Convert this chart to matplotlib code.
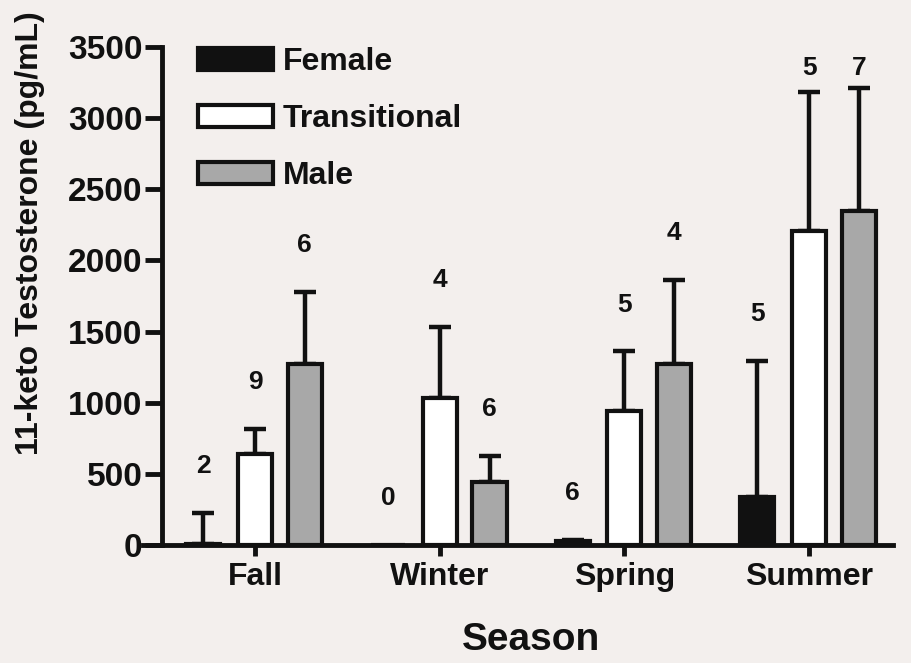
import numpy as np
import matplotlib
matplotlib.use("Agg")
import matplotlib.pyplot as plt

## data
seasons = ["Fall", "Winter", "Spring", "Summer"]
groups = ["Female", "Transitional", "Male"]

female_mean = [10, 0, 25, 340]
female_sem = [215, 0, 10, 950]
trans_mean = [640, 1035, 945, 2205]
trans_sem = [175, 500, 415, 980]
male_mean = [1270, 445, 1270, 2345]
male_sem = [505, 180, 595, 865]

female_n = [2, 0, 6, 5]
trans_n = [9, 4, 5, 5]
male_n = [6, 6, 4, 7]

bg = "#f3efed"
colors = ["#111111", "#ffffff", "#a8a8a8"]

plt.rcParams["font.family"] = ["Liberation Sans", "DejaVu Sans"]
plt.rcParams["font.weight"] = "bold"

fig = plt.figure(figsize=(9.11, 6.63), dpi=100, facecolor=bg)
ax = fig.add_axes([143 / 911, 118 / 663, 750 / 911, 498 / 663])
ax.set_facecolor(bg)

x = np.arange(len(seasons))
offsets = [-0.28, 0.0, 0.27]
width = 0.185
means = [female_mean, trans_mean, male_mean]
sems = [female_sem, trans_sem, male_sem]
ns = [female_n, trans_n, male_n]

for g in range(3):
    xs = x + offsets[g]
    m = np.array(means[g], dtype=float)
    s = np.array(sems[g], dtype=float)
    ax.bar(xs, m, width, color=colors[g], edgecolor="#111111",
           linewidth=3, label=groups[g], zorder=2)
    keep = s > 0
    ax.errorbar(xs[keep], m[keep], yerr=[np.zeros(keep.sum()), s[keep]],
                fmt="none", ecolor="#111111", elinewidth=3.2, capsize=8,
                capthick=3.2, zorder=1)
    for xi, top, n in zip(xs, m + s, ns[g]):
        ax.text(xi, min(top + 330, 3350), str(n), ha="center", va="center",
                fontsize=19, fontweight="bold", color="#111111")

ax.set_xlim(-0.606, 3.454)
ax.set_ylim(0, 3500)
ax.set_yticks(np.arange(0, 3501, 500))
ax.set_xticks(x)
ax.set_xticklabels(seasons)

for side in ["top", "right"]:
    ax.spines[side].set_visible(False)
ax.spines["left"].set_position(("data", -0.503))
ax.spines["left"].set_linewidth(3.5)
ax.spines["bottom"].set_linewidth(3.5)
ax.spines["left"].set_color("#111111")
ax.spines["bottom"].set_color("#111111")

ax.tick_params(axis="y", length=12, width=3.5, pad=2, labelsize=24, colors="#111111")
ax.tick_params(axis="x", length=8, width=3.5, pad=4, labelsize=23, colors="#111111")

fig.text(30 / 911, 1 - 233 / 663, "11-keto Testosterone (pg/mL)", rotation=90,
         ha="center", va="center", fontsize=23, fontweight="bold", color="#111111")
fig.text(531 / 911, 1 - 640 / 663, "Season", ha="center", va="center",
         fontsize=28, fontweight="bold", color="#111111")

leg = ax.legend(loc="upper left", bbox_to_anchor=(0.073, 1.0), frameon=False,
                fontsize=23, handlelength=2.35, handleheight=0.66,
                handletextpad=0.3, labelspacing=0.85, borderpad=0,
                borderaxespad=0)
for t in leg.get_texts():
    t.set_fontweight("bold")
    t.set_color("#111111")

fig.savefig("out.png", dpi=100, facecolor=bg)
